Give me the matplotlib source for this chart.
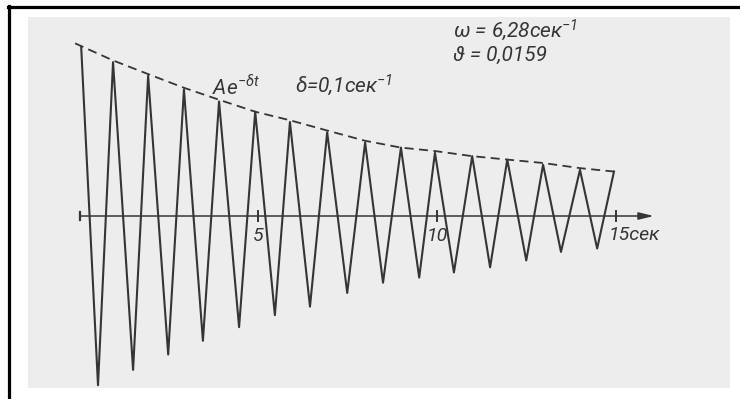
#...............................................................
#  damped oscillation  x(t) = A e^{-delta t} cos(omega t)
#  redrawn from a scanned textbook figure
#...............................................................
import matplotlib
matplotlib.use("Agg")
import matplotlib.pyplot as plt
from matplotlib.lines import Line2D

#...............................................................
# data (t in sec, y relative to first peak)
t_ext = [0.06, 0.53, 0.95, 1.51, 1.93, 2.49, 2.93, 3.46, 3.91, 4.47,
         4.92, 5.47, 5.89, 6.45, 6.93, 7.49, 7.99, 8.49, 8.99, 9.50,
         9.94, 10.47, 10.98, 11.48, 11.96, 12.49, 12.96, 13.46, 13.99,
         14.47, 14.94]
y_ext = [0.99, -0.99, 0.90, -0.90, 0.82, -0.81, 0.74, -0.73, 0.67, -0.65,
         0.61, -0.58, 0.55, -0.53, 0.49, -0.45, 0.43, -0.39, 0.40, -0.36,
         0.37, -0.33, 0.35, -0.30, 0.33, -0.26, 0.30, -0.21, 0.27,
         -0.19, 0.26]

# dashed envelope A e^{-delta t}
t_env = [-0.11, 0.95, 1.93, 2.93, 3.91, 4.92, 5.89, 6.93, 7.99, 8.99,
         9.94, 10.98, 11.96, 12.96, 13.99, 14.94]
y_env = [1.01, 0.91, 0.83, 0.75, 0.68, 0.61, 0.56, 0.50, 0.44, 0.40,
         0.38, 0.35, 0.33, 0.31, 0.28, 0.26]

tick_pos = [5, 10, 15]
tick_lab = ["5", "10", "15сек"]

#...............................................................
# fonts: narrow-ish italic, like the drawing lettering
plt.rcParams['font.family'] = ['Roboto', 'DejaVu Sans']
plt.rcParams['font.style'] = 'italic'
plt.rcParams['mathtext.fontset'] = 'custom'
plt.rcParams['mathtext.it'] = 'Roboto:italic'
plt.rcParams['mathtext.rm'] = 'Roboto:italic'

ink = "#353535"
fs = 15      # labels
fs_t = 14    # axis numbers

fig = plt.figure(figsize=(7.4, 3.99), dpi=100)
fig.patch.set_facecolor("white")

# black frame lines (left and top) of the page
fig.add_artist(Line2D([8.5/740, 8.5/740], [0, 1 - 6/399],
                      transform=fig.transFigure, color="black", lw=2.3))
fig.add_artist(Line2D([7.5/740, 1], [1 - 6.5/399, 1 - 6.5/399],
                      transform=fig.transFigure, color="black", lw=2.3))

# grey scanned area
ax = fig.add_axes([28/740, 11/399, 702/740, 371/399])
ax.set_facecolor("#ededed")
ax.set_xlim(-1.425, 18.18)
ax.set_ylim(-1.006, 1.164)
ax.set_xticks([])
ax.set_yticks([])
for s in ax.spines.values():
    s.set_visible(False)

# time axis with arrow
ax.annotate("", xy=(16.05, 0), xytext=(0.03, 0),
            arrowprops=dict(arrowstyle="-|>,head_length=0.9,head_width=0.22",
                            color=ink, lw=1.1, shrinkA=0, shrinkB=0,
                            mutation_scale=10))
ax.plot([0.03, 0.03], [-0.025, 0.025], color=ink, lw=1.6)
for tp, tl in zip(tick_pos, tick_lab):
    ax.plot([tp, tp], [-0.03, 0.03], color=ink, lw=1.4)
    if tp == 15:
        ax.text(tp - 0.2, -0.11, tl, ha="left", va="center",
                fontsize=fs_t, color=ink)
    else:
        ax.text(tp, -0.115, tl, ha="center", va="center",
                fontsize=fs_t, color=ink)

# oscillation and envelope
ax.plot(t_ext, y_ext, color=ink, lw=1.5, solid_joinstyle="round",
        clip_on=False)
ax.plot(t_env, y_env, color=ink, lw=1.3, linestyle=(0, (5, 3)),
        clip_on=False)

# labels
ax.text(3.72, 0.708, r"A$e^{-\delta t}$", fontsize=fs, color=ink,
        va="baseline")
ax.text(6.03, 0.72, "δ=0,1сек$^{-1}$", fontsize=fs, color=ink,
        va="baseline")
ax.text(10.45, 1.045, "ω = 6,28сек$^{-1}$", fontsize=fs, color=ink,
        va="baseline")
ax.text(10.45, 0.91, "ϑ = 0,0159", fontsize=fs, color=ink,
        va="baseline")

fig.savefig("out.png", dpi=100, facecolor="white")
